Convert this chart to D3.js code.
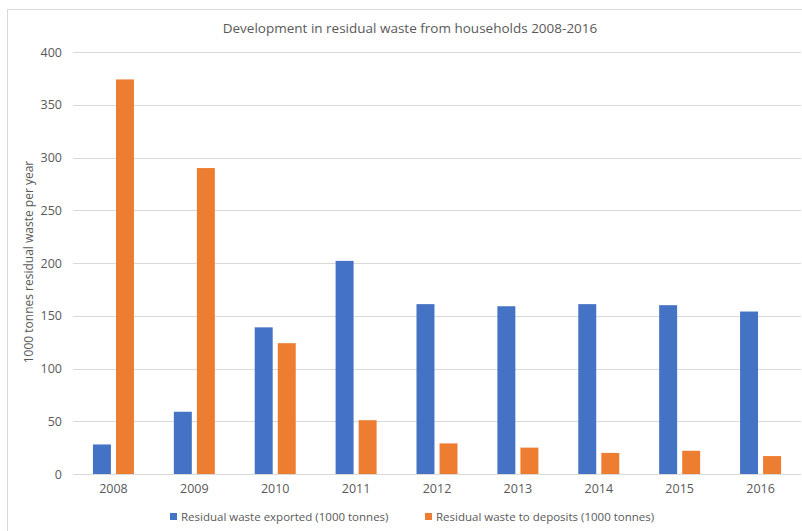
<!DOCTYPE html>
<html>
<head>
<meta charset="utf-8">
<script src="https://cdn.jsdelivr.net/npm/d3@7"></script>
<style>
  body { margin: 0; background: #fff; }
  text { font-family: "Open Sans", sans-serif; fill: #595959; }
</style>
</head>
<body>
<script>
// values (1000 tonnes)
const years = ["2008", "2009", "2010", "2011", "2012", "2013", "2014", "2015", "2016"];
const exported = [28, 59, 139, 202, 161, 159, 161, 160, 154];
const deposits = [374, 290, 124, 51, 29, 25, 20, 22, 17];
const seriesNames = ["Residual waste exported (1000 tonnes)", "Residual waste to deposits (1000 tonnes)"];
const colors = ["#4472C4", "#ED7D31"];
const yTicks = [0, 50, 100, 150, 200, 250, 300, 350, 400];

const width = 802, height = 531;
const margin = {top: 52, right: 1, bottom: 57, left: 73};

const svg = d3.select("body").append("svg")
    .attr("width", width)
    .attr("height", height);

// chart frame
svg.append("rect")
    .attr("x", 7.5).attr("y", 9.5)
    .attr("width", 830).attr("height", 560)
    .attr("fill", "none")
    .attr("stroke", "#d9d9d9");

const x0 = d3.scaleBand()
    .domain(years)
    .range([margin.left, width - margin.right]);

const x1 = d3.scaleBand()
    .domain([0, 1])
    .range([x0.bandwidth() / 2 - 20.5, x0.bandwidth() / 2 + 20.5])
    .paddingInner(0.22);

const y = d3.scaleLinear()
    .domain([0, 400])
    .range([height - margin.bottom, margin.top]);

// gridlines
svg.append("g")
    .selectAll("line")
    .data(yTicks)
    .join("line")
        .attr("x1", margin.left)
        .attr("x2", width - margin.right)
        .attr("y1", d => Math.round(y(d)) + 0.5)
        .attr("y2", d => Math.round(y(d)) + 0.5)
        .attr("stroke", "#d9d9d9");

// y axis labels
const yAxis = svg.append("g")
    .attr("transform", `translate(${margin.left},0)`)
    .call(d3.axisLeft(y).tickValues(yTicks).tickSize(0).tickPadding(11));
yAxis.select(".domain").remove();
yAxis.selectAll("text")
    .style("font-size", "12.5px")
    .style("font-family", "'Open Sans', sans-serif")
    .attr("fill", "#595959");

// x axis labels
const xAxis = svg.append("g")
    .attr("transform", `translate(0,${height - margin.bottom})`)
    .call(d3.axisBottom(x0).tickSize(0).tickPadding(10));
xAxis.select(".domain").remove();
xAxis.selectAll("text")
    .style("font-size", "12.5px")
    .style("font-family", "'Open Sans', sans-serif")
    .attr("fill", "#595959");

// bars
const rows = years.map((yr, i) => ({year: yr, vals: [exported[i], deposits[i]]}));

const group = svg.append("g")
    .selectAll("g")
    .data(rows)
    .join("g")
        .attr("transform", d => `translate(${x0(d.year)},0)`);

group.selectAll("rect")
    .data(d => d.vals.map((v, k) => ({k, v})))
    .join("rect")
        .attr("x", d => x1(d.k))
        .attr("width", x1.bandwidth())
        .attr("y", d => y(d.v))
        .attr("height", d => y(0) - y(d.v))
        .attr("fill", d => colors[d.k]);

// title
svg.append("text")
    .attr("x", 410)
    .attr("y", 33)
    .attr("text-anchor", "middle")
    .style("font-size", "13.5px")
    .text("Development in residual waste from households 2008-2016");

// y axis title
svg.append("text")
    .attr("transform", "translate(33,262) rotate(-90)")
    .attr("text-anchor", "middle")
    .style("font-size", "12px")
    .text("1000 tonnes residual waste per year");

// legend
const legendX = [170, 425];
const legend = svg.append("g")
    .selectAll("g")
    .data(seriesNames)
    .join("g")
        .attr("transform", (d, i) => `translate(${legendX[i]},517)`);

legend.append("rect")
    .attr("x", 0).attr("y", -4)
    .attr("width", 7).attr("height", 7)
    .attr("fill", (d, i) => colors[i]);

legend.append("text")
    .attr("x", 11)
    .attr("dy", "0.35em")
    .style("font-size", "11.5px")
    .text(d => d);
</script>
</body>
</html>
